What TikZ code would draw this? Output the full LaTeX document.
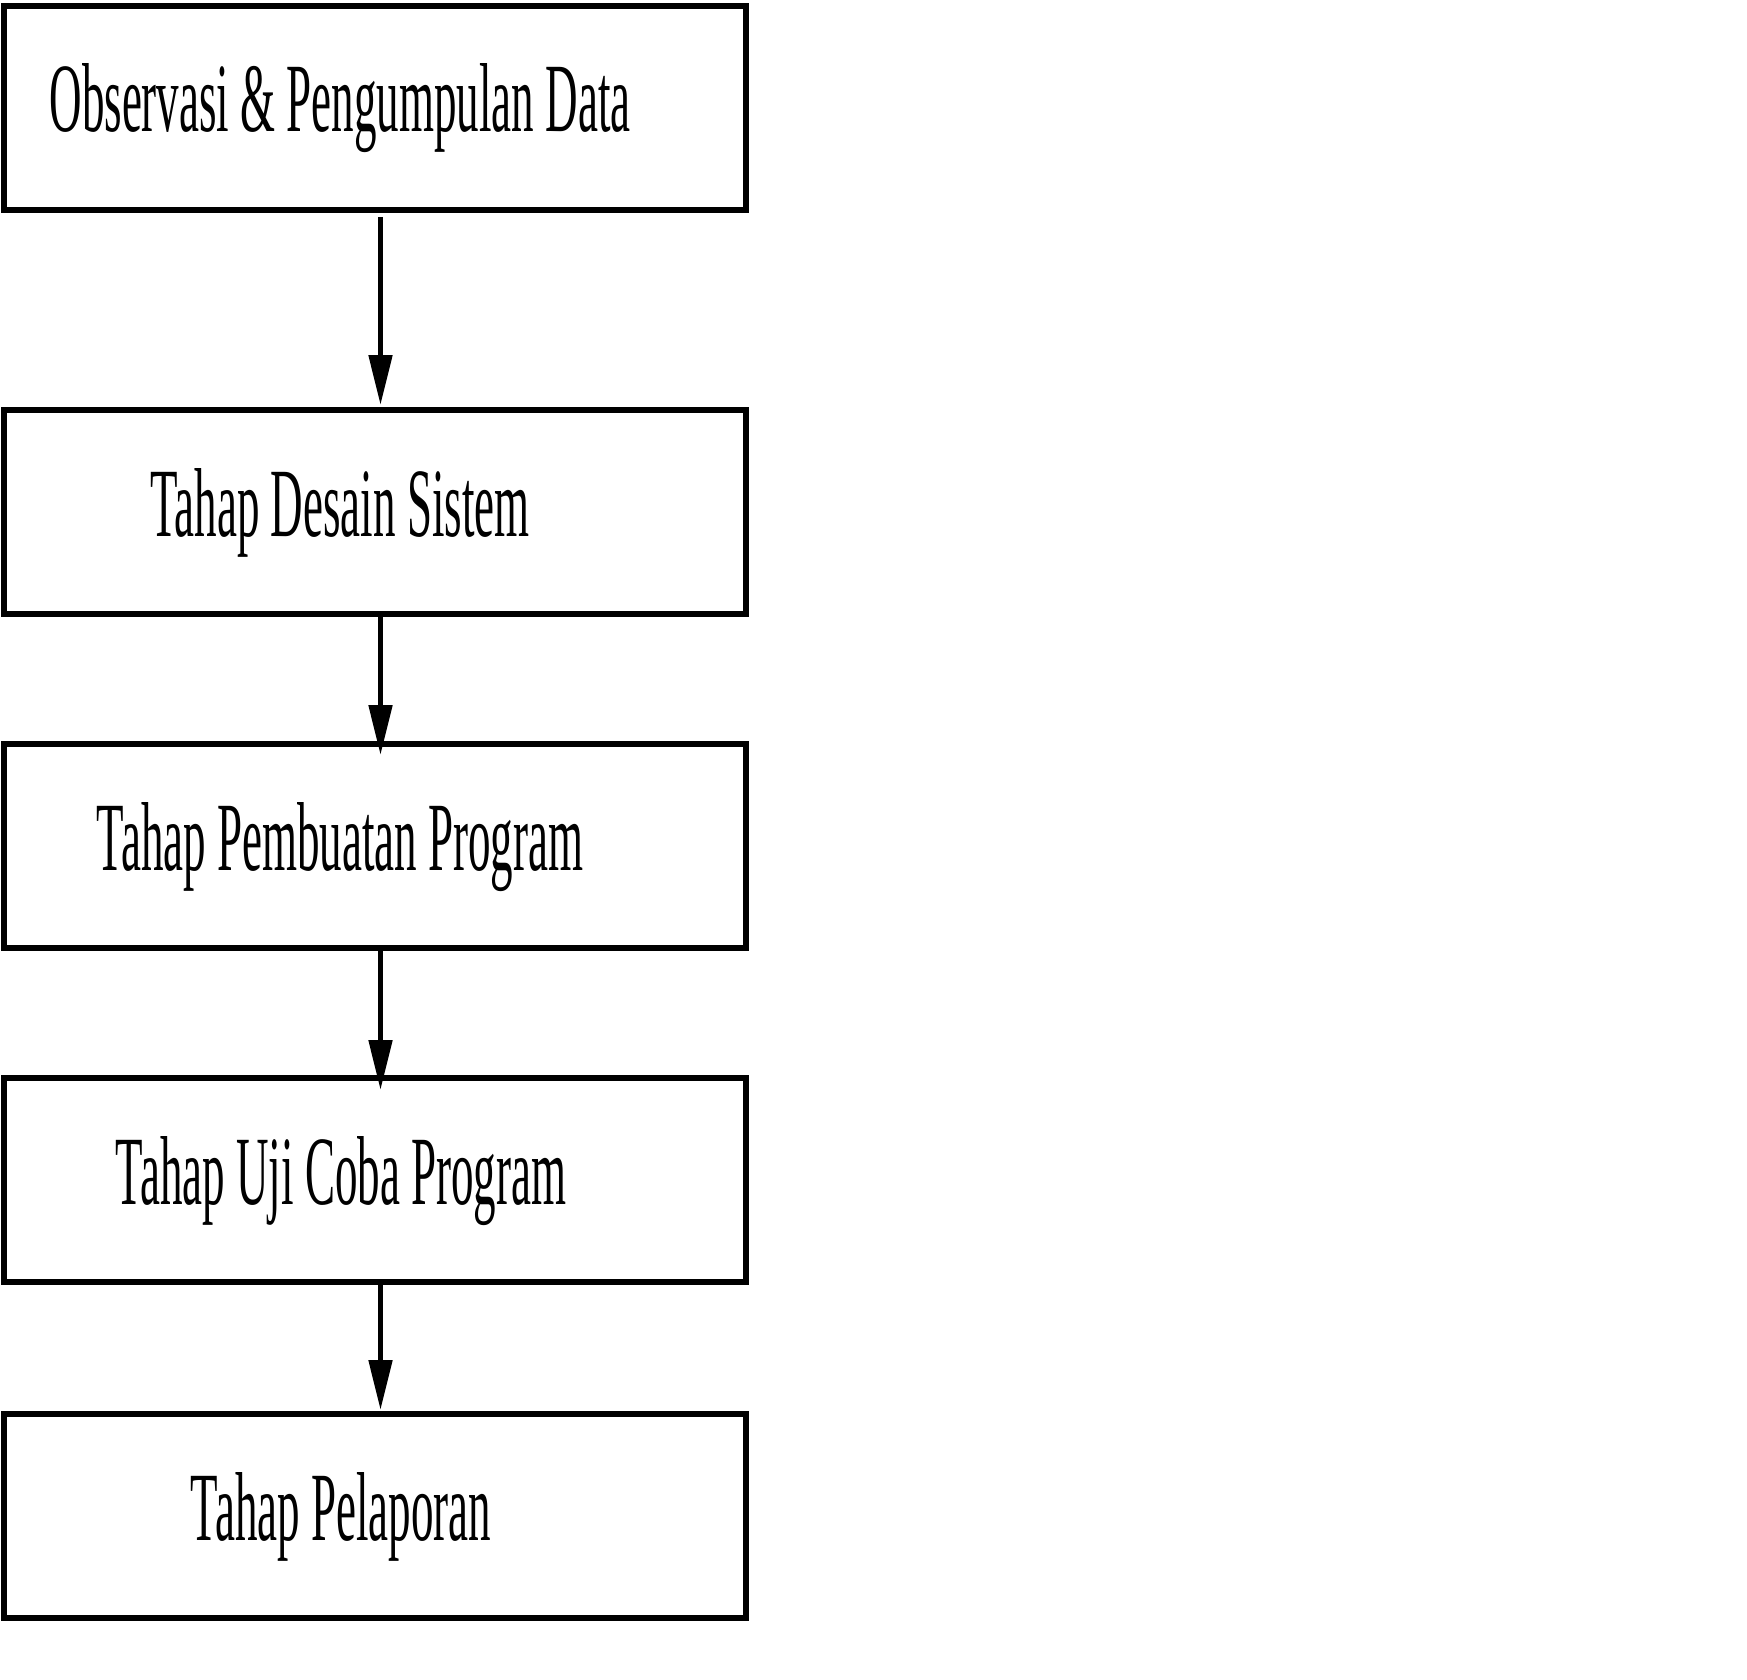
\documentclass[tikz,border=0pt]{standalone}
\usepackage{fontspec}
\setmainfont{Liberation Serif}
\usetikzlibrary{arrows.meta}
\begin{document}
\begin{tikzpicture}[x=1pt,y=1pt,
 box/.style={draw, line width=6pt, minimum width=742pt, minimum height=204pt, inner sep=0pt, outer sep=0pt},
 lbl/.style={anchor=base, inner sep=0pt, font=\fontsize{98}{98}\selectfont},
 flow/.style={line width=5pt, -{Triangle[length=50pt,width=23pt]}}]
\useasboundingbox (0,0) rectangle (1747,-1680);
\node[box] (b1) at (375,-108) {};
\node[box] (b2) at (375,-512) {};
\node[box] (b3) at (375,-846) {};
\node[box] (b4) at (375,-1180) {};
\node[box] (b5) at (375,-1516) {};
\node[lbl] (t1) at ([xshift=-35pt,yshift=-24pt]b1.center) {\scalebox{0.459}[1]{Observasi \& Pengumpulan Data}};
\node[lbl] (t2) at ([xshift=-35pt,yshift=-24pt]b2.center) {\scalebox{0.459}[1]{Tahap Desain Sistem}};
\node[lbl] (t3) at ([xshift=-35pt,yshift=-24pt]b3.center) {\scalebox{0.459}[1]{Tahap Pembuatan Program}};
\node[lbl] (t4) at ([xshift=-34pt,yshift=-24pt]b4.center) {\scalebox{0.459}[1]{Tahap Uji Coba Program}};
\node[lbl] (t5) at ([xshift=-34pt,yshift=-24pt]b5.center) {\scalebox{0.459}[1]{Tahap Pelaporan}};
\draw[flow] ([xshift=5.5pt,yshift=-7pt]b1.south) -- ([xshift=5.5pt,yshift=5pt]b2.north);
\draw[flow] ([xshift=5.5pt,yshift=1pt]b2.south) -- ([xshift=5.5pt,yshift=-11pt]b3.north);
\draw[flow] ([xshift=5.5pt,yshift=0pt]b3.south) -- ([xshift=5.5pt,yshift=-12pt]b4.north);
\draw[flow] ([xshift=5.5pt,yshift=-1pt]b4.south) -- ([xshift=5.5pt,yshift=4pt]b5.north);
\end{tikzpicture}
\end{document}
